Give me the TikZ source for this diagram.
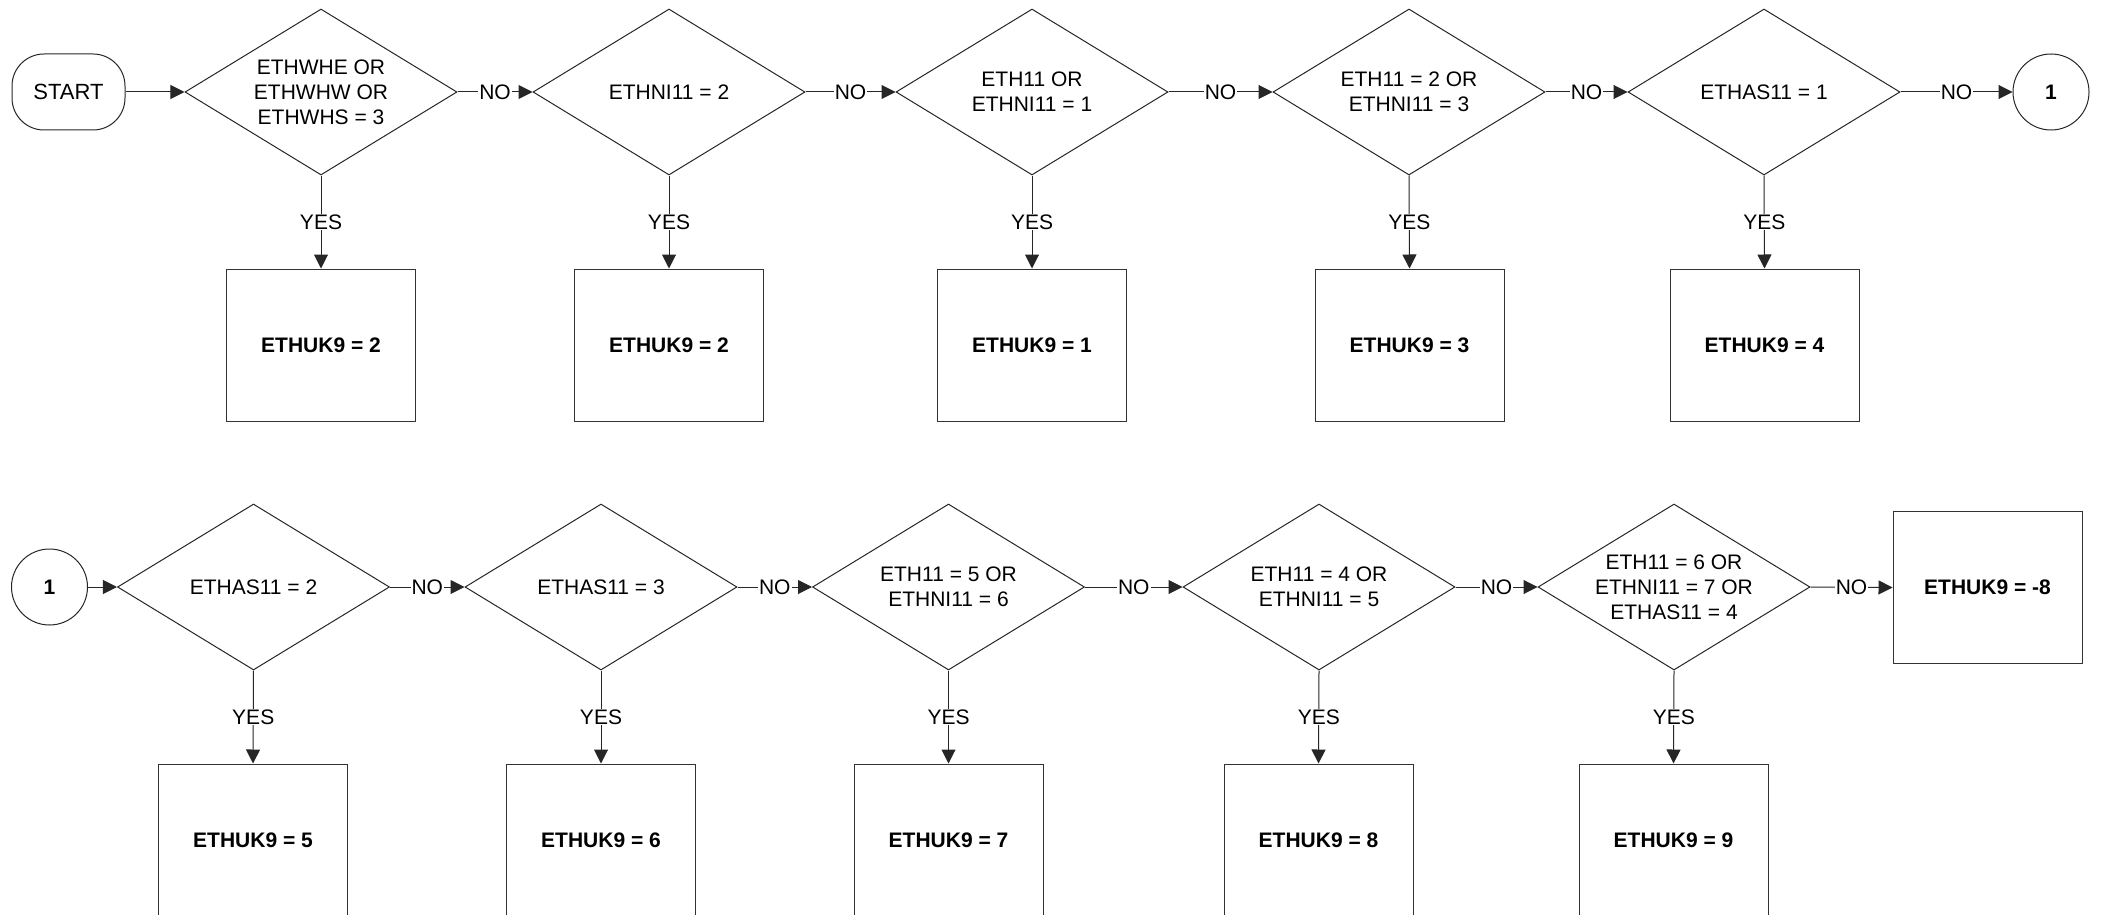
\documentclass[tikz,border=0pt]{standalone}
\usepackage{fontspec}
\setmainfont{Liberation Sans}
\usetikzlibrary{shapes.geometric,arrows.meta}
\begin{document}
\begin{tikzpicture}[x=1pt,y=-1pt,
  every node/.style={font=\fontsize{21}{25}\selectfont, text=black},
  cond/.style={diamond, draw=black!85, line width=1pt, minimum width=272pt, minimum height=166pt, inner sep=0pt, shape aspect=1.64, align=center},
  result/.style={rectangle, draw=black!80, line width=1pt, minimum width=189pt, minimum height=152pt, inner sep=0pt, font=\fontsize{21}{25}\selectfont\bfseries},
  term/.style={rectangle, rounded corners=32pt, draw=black!85, line width=1pt, minimum width=113pt, minimum height=76pt, font=\fontsize{22}{25}\selectfont},
  conn/.style={circle, draw=black!85, line width=1pt, minimum size=76pt, inner sep=0pt, font=\fontsize{21}{25}\selectfont\bfseries},
  flow/.style={draw=black!85, line width=1pt, -{Triangle[length=14pt,width=14pt]}},
  lbl/.style={midway, fill=white, inner sep=1pt}
]
\useasboundingbox (0,0) rectangle (2101,915);
% Row 1
\node[term] (start) at (68.5,92) {START};
\node[cond] (d1) at (321,92) {ETHWHE OR\\ETHWHW OR\\ETHWHS = 3};
\node[cond] (d2) at (669,92) {ETHNI11 = 2};
\node[cond] (d3) at (1032,92) {ETH11 OR\\ETHNI11 = 1};
\node[cond] (d4) at (1409,92) {ETH11 = 2 OR\\ETHNI11 = 3};
\node[cond] (d5) at (1764,92) {ETHAS11 = 1};
\node[conn] (c1) at (2051,92) {1};
\node[result] (b1) at (321,345) {ETHUK9 = 2};
\node[result] (b2) at (669,345) {ETHUK9 = 2};
\node[result] (b3) at (1032,345) {ETHUK9 = 1};
\node[result] (b4) at (1409.5,345) {ETHUK9 = 3};
\node[result] (b5) at (1764.5,345) {ETHUK9 = 4};
\draw[flow] (start) -- (d1);
\draw[flow] (d1.east) -- node[lbl] {NO} (d2.west);
\draw[flow] (d2.east) -- node[lbl] {NO} (d3.west);
\draw[flow] (d3.east) -- node[lbl] {NO} (d4.west);
\draw[flow] (d4.east) -- node[lbl] {NO} (d5.west);
\draw[flow] (d5.east) -- node[lbl] {NO} (c1.west);
\draw[flow] (d1.south) -- node[lbl] {YES} (b1.north);
\draw[flow] (d2.south) -- node[lbl] {YES} (b2.north);
\draw[flow] (d3.south) -- node[lbl] {YES} (b3.north);
\draw[flow] (d4.south) -- node[lbl] {YES} (b4.north);
\draw[flow] (d5.south) -- node[lbl] {YES} (b5.north);
% Row 2
\node[conn] (c2) at (49.5,587) {1};
\node[cond] (e1) at (253.5,587) {ETHAS11 = 2};
\node[cond] (e2) at (601,587) {ETHAS11 = 3};
\node[cond] (e3) at (948.5,587) {ETH11 = 5 OR\\ETHNI11 = 6};
\node[cond] (e4) at (1319,587) {ETH11 = 4 OR\\ETHNI11 = 5};
\node[cond] (e5) at (1674,587) {ETH11 = 6 OR\\ETHNI11 = 7 OR\\ETHAS11 = 4};
\node[result] (f6) at (1987.5,587.5) {ETHUK9 = -8};
\node[result] (f1) at (253,840) {ETHUK9 = 5};
\node[result] (f2) at (601,840) {ETHUK9 = 6};
\node[result] (f3) at (948.5,840) {ETHUK9 = 7};
\node[result] (f4) at (1318.5,840) {ETHUK9 = 8};
\node[result] (f5) at (1673.5,840) {ETHUK9 = 9};
\draw[flow] (c2) -- (e1);
\draw[flow] (e1.east) -- node[lbl] {NO} (e2.west);
\draw[flow] (e2.east) -- node[lbl] {NO} (e3.west);
\draw[flow] (e3.east) -- node[lbl] {NO} (e4.west);
\draw[flow] (e4.east) -- node[lbl] {NO} (e5.west);
\draw[flow] (e5.east) -- node[lbl] {NO} (f6.west);
\draw[flow] (e1.south) -- node[lbl] {YES} (f1.north);
\draw[flow] (e2.south) -- node[lbl] {YES} (f2.north);
\draw[flow] (e3.south) -- node[lbl] {YES} (f3.north);
\draw[flow] (e4.south) -- node[lbl] {YES} (f4.north);
\draw[flow] (e5.south) -- node[lbl] {YES} (f5.north);
\end{tikzpicture}
\end{document}
